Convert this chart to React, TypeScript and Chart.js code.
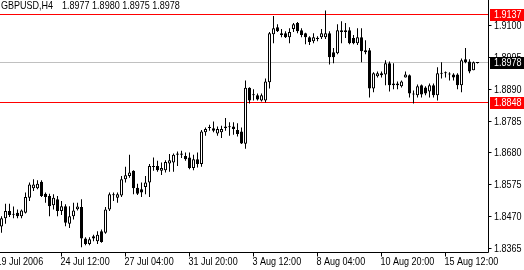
import React, { useEffect, useRef } from 'react';
import { Chart, registerables } from 'chart.js';

Chart.register(...registerables);

const symbolText = 'GBPUSD,H4';
const ohlcText = '1.8977 1.8980 1.8975 1.8978';

const opens = [
  1.8437, 1.8464, 1.8488, 1.8478, 1.8482, 1.8471, 1.8482, 1.8532, 1.8563, 1.8563,
  1.8585, 1.8545, 1.8538, 1.8507, 1.8527, 1.8488, 1.8504, 1.8446, 1.8471, 1.8494,
  1.8501, 1.8397, 1.8379, 1.8405, 1.8388, 1.8421, 1.8416, 1.8493, 1.8541, 1.8532,
  1.8539, 1.8593, 1.8604, 1.8621, 1.8565, 1.8560, 1.8567, 1.8582, 1.8635, 1.8637,
  1.8621, 1.8623, 1.8645, 1.8648, 1.8678, 1.8678, 1.8670, 1.8665, 1.8630, 1.8659,
  1.8643, 1.8748, 1.8762, 1.8761, 1.8744, 1.8748, 1.8767, 1.8765, 1.8767, 1.8756,
  1.8751, 1.8710, 1.8895, 1.8873, 1.8870, 1.8853, 1.8853, 1.8913, 1.9072, 1.9095,
  1.9075, 1.9075, 1.9062, 1.9089, 1.9109, 1.9085, 1.9075, 1.9062, 1.9049, 1.9056,
  1.9062, 1.9062, 1.9075, 1.9012, 1.9009, 1.9085, 1.9085, 1.9085, 1.9059, 1.9042,
  1.9062, 1.9019, 1.9019, 1.8893, 1.8933, 1.8943, 1.8939, 1.8976, 1.8909, 1.8909,
  1.8900, 1.8929, 1.8936, 1.8876, 1.8870, 1.8903, 1.8896, 1.8883, 1.8903, 1.8870,
  1.8943, 1.8946, 1.8939, 1.8939, 1.8939, 1.8903, 1.8989, 1.8982, 1.8953, 1.8977,
];
const highs = [
  1.8471, 1.8512, 1.8512, 1.8503, 1.8493, 1.8493, 1.8549, 1.8582, 1.8593, 1.8590,
  1.8590, 1.8549, 1.8545, 1.8543, 1.8538, 1.8521, 1.8510, 1.8504, 1.8515, 1.8515,
  1.8527, 1.8401, 1.8401, 1.8410, 1.8421, 1.8427, 1.8501, 1.8549, 1.8549, 1.8549,
  1.8604, 1.8634, 1.8674, 1.8623, 1.8578, 1.8582, 1.8604, 1.8643, 1.8665, 1.8654,
  1.8648, 1.8656, 1.8676, 1.8678, 1.8685, 1.8687, 1.8681, 1.8681, 1.8674, 1.8681,
  1.8756, 1.8764, 1.8773, 1.8784, 1.8767, 1.8770, 1.8795, 1.8781, 1.8781, 1.8778,
  1.8764, 1.8919, 1.8897, 1.8890, 1.8876, 1.8876, 1.8926, 1.9079, 1.9132, 1.9105,
  1.9089, 1.9082, 1.9092, 1.9109, 1.9112, 1.9092, 1.9077, 1.9065, 1.9075, 1.9065,
  1.9089, 1.9150, 1.9082, 1.9026, 1.9105, 1.9115, 1.9109, 1.9095, 1.9069, 1.9092,
  1.9092, 1.9052, 1.9026, 1.8946, 1.8949, 1.8949, 1.8986, 1.8982, 1.8976, 1.8916,
  1.8919, 1.8949, 1.8939, 1.8886, 1.8906, 1.8906, 1.8900, 1.8909, 1.8909, 1.8963,
  1.8979, 1.8949, 1.8946, 1.8943, 1.8943, 1.8992, 1.9026, 1.8989, 1.8982, 1.8980,
];
const lows = [
  1.8416, 1.8446, 1.8468, 1.8464, 1.8464, 1.8464, 1.8480, 1.8521, 1.8554, 1.8560,
  1.8534, 1.8515, 1.8471, 1.8493, 1.8471, 1.8475, 1.8438, 1.8432, 1.8460, 1.8490,
  1.8368, 1.8375, 1.8375, 1.8388, 1.8379, 1.8383, 1.8413, 1.8488, 1.8521, 1.8515,
  1.8534, 1.8582, 1.8598, 1.8543, 1.8541, 1.8534, 1.8543, 1.8534, 1.8621, 1.8618,
  1.8607, 1.8615, 1.8618, 1.8618, 1.8637, 1.8663, 1.8654, 1.8626, 1.8623, 1.8632,
  1.8634, 1.8737, 1.8753, 1.8748, 1.8737, 1.8729, 1.8753, 1.8737, 1.8740, 1.8734,
  1.8709, 1.8694, 1.8843, 1.8853, 1.8853, 1.8850, 1.8846, 1.8893, 1.9042, 1.9079,
  1.9062, 1.9059, 1.9042, 1.9079, 1.9075, 1.9062, 1.9039, 1.9036, 1.9042, 1.9049,
  1.9056, 1.9056, 1.8972, 1.8976, 1.9006, 1.9042, 1.9059, 1.9039, 1.9039, 1.9036,
  1.8979, 1.9006, 1.8863, 1.8880, 1.8929, 1.8929, 1.8903, 1.8883, 1.8890, 1.8890,
  1.8896, 1.8929, 1.8863, 1.8843, 1.8863, 1.8863, 1.8870, 1.8863, 1.8863, 1.8853,
  1.8926, 1.8929, 1.8919, 1.8919, 1.8890, 1.8880, 1.8976, 1.8943, 1.8953, 1.8975,
];
const closes = [
  1.8464, 1.8488, 1.8475, 1.8476, 1.8471, 1.8490, 1.8534, 1.8576, 1.8576, 1.8578,
  1.8538, 1.8534, 1.8504, 1.8532, 1.8488, 1.8504, 1.8449, 1.8471, 1.8490, 1.8503,
  1.8397, 1.8379, 1.8395, 1.8397, 1.8410, 1.8386, 1.8493, 1.8543, 1.8540, 1.8543,
  1.8593, 1.8606, 1.8615, 1.8563, 1.8545, 1.8549, 1.8582, 1.8637, 1.8633, 1.8623,
  1.8630, 1.8650, 1.8656, 1.8674, 1.8674, 1.8674, 1.8659, 1.8630, 1.8659, 1.8643,
  1.8751, 1.8759, 1.8764, 1.8753, 1.8759, 1.8759, 1.8762, 1.8765, 1.8759, 1.8742,
  1.8711, 1.8895, 1.8853, 1.8870, 1.8856, 1.8870, 1.8916, 1.9075, 1.9092, 1.9082,
  1.9069, 1.9062, 1.9079, 1.9105, 1.9082, 1.9069, 1.9062, 1.9046, 1.9062, 1.9060,
  1.9075, 1.9075, 1.8996, 1.8996, 1.9085, 1.9079, 1.9079, 1.9042, 1.9042, 1.9062,
  1.9016, 1.9012, 1.8893, 1.8943, 1.8943, 1.8936, 1.8976, 1.8903, 1.8903, 1.8903,
  1.8916, 1.8939, 1.8876, 1.8873, 1.8900, 1.8873, 1.8876, 1.8903, 1.8870, 1.8943,
  1.8941, 1.8943, 1.8941, 1.8929, 1.8903, 1.8986, 1.8979, 1.8949, 1.8979, 1.8978,
];

const priceTicks = [1.91, 1.8995, 1.889, 1.8785, 1.868, 1.8575, 1.847, 1.8365];
const timeTickBars = [-1, 15, 31, 47, 63, 79, 95, 111];
const timeTickLabels = [
  '19 Jul 2006', '24 Jul 12:00', '27 Jul 04:00', '31 Jul 20:00',
  '3 Aug 12:00', '8 Aug 04:00', '10 Aug 20:00', '15 Aug 12:00',
];
const redLevels = [1.9137, 1.8848];
const bidLevel = 1.8978;
const priceMin = 1.83527;
const priceMax = 1.91849;
const barMin = -0.375;
const barMax = 121.625;

const FONT = '11px "Liberation Sans", Arial, sans-serif';
const SQUEEZE = 0.82;

const fmt = (v: number) => v.toFixed(4);

function txt(ctx: CanvasRenderingContext2D, s: string, x: number, y: number) {
  ctx.save();
  ctx.translate(x, y);
  ctx.scale(SQUEEZE, 1);
  ctx.fillText(s, 0, 0);
  ctx.restore();
}

const overlayPlugin = {
  id: 'mt4Overlay',
  beforeDatasetsDraw(chart: any) {
    const { ctx, chartArea: a, scales } = chart;
    const y = scales.y;
    ctx.save();
    ctx.lineWidth = 1;
    const yb = Math.floor(y.getPixelForValue(bidLevel)) + 0.5;
    ctx.strokeStyle = '#c0c0c0';
    ctx.beginPath();
    ctx.moveTo(a.left, yb);
    ctx.lineTo(a.right, yb);
    ctx.stroke();
    ctx.strokeStyle = '#ff0000';
    redLevels.forEach((lv) => {
      const yy = Math.floor(y.getPixelForValue(lv)) + 0.5;
      ctx.beginPath();
      ctx.moveTo(a.left, yy);
      ctx.lineTo(a.right, yy);
      ctx.stroke();
    });
    ctx.restore();
  },
  afterDraw(chart: any) {
    const { ctx, chartArea: a, scales } = chart;
    const x = scales.x;
    const y = scales.y;
    ctx.save();
    ctx.lineWidth = 1;
    ctx.strokeStyle = '#000';
    ctx.fillStyle = '#000';
    const ax = a.right + 0.5;
    const ay = a.bottom + 0.5;
    ctx.beginPath();
    ctx.moveTo(ax, a.top);
    ctx.lineTo(ax, ay);
    ctx.moveTo(a.left, ay);
    ctx.lineTo(ax, ay);
    ctx.stroke();

    ctx.font = FONT;
    ctx.textAlign = 'left';
    ctx.textBaseline = 'middle';
    priceTicks.forEach((p) => {
      const yy = Math.floor(y.getPixelForValue(p)) + 0.5;
      ctx.beginPath();
      ctx.moveTo(ax, yy);
      ctx.lineTo(ax + 3, yy);
      ctx.stroke();
      txt(ctx, fmt(p), a.right + 6, yy);
    });
    timeTickBars.forEach((b, k) => {
      const xx = Math.floor(x.getPixelForValue(b)) + 0.5;
      ctx.beginPath();
      ctx.moveTo(xx, ay);
      ctx.lineTo(xx, ay + 4);
      ctx.stroke();
      txt(ctx, timeTickLabels[k], xx - 1, a.bottom + 9.5);
    });
    const box = (lv: number, bg: string) => {
      const yy = Math.floor(y.getPixelForValue(lv));
      ctx.fillStyle = bg;
      ctx.fillRect(a.right + 2, yy - 5, chart.width - a.right - 2, 12);
      ctx.fillStyle = '#fff';
      txt(ctx, fmt(lv), a.right + 6, yy + 1);
    };
    redLevels.forEach((lv) => box(lv, '#ff0000'));
    box(bidLevel, '#000000');
    ctx.fillStyle = '#000';
    txt(ctx, symbolText, 1, 5.5);
    txt(ctx, ohlcText, 62, 5.5);
    ctx.restore();
  },
};

export default function App() {
  const ref = useRef<HTMLCanvasElement>(null);
  useEffect(() => {
    document.body.style.margin = '0';
    document.body.style.background = '#ffffff';
    if (!ref.current) return;
    const idx = opens.map((_, i) => i);
    const chart = new Chart(ref.current, {
      type: 'bar',
      data: {
        datasets: [
          {
            label: 'body',
            data: idx.map((i) => ({ x: i, y: [opens[i], closes[i]] })) as any,
            backgroundColor: idx.map((i) => (closes[i] >= opens[i] ? '#ffffff' : '#000000')),
            borderColor: '#000000',
            borderWidth: 1,
            borderSkipped: false,
            barThickness: 3,
            minBarLength: 1,
            inflateAmount: 0,
            grouped: false,
            order: 0,
          } as any,
          {
            label: 'wick',
            data: idx.map((i) => ({ x: i, y: [lows[i], highs[i]] })) as any,
            backgroundColor: '#000000',
            borderWidth: 0,
            barThickness: 1,
            minBarLength: 1,
            inflateAmount: 0,
            grouped: false,
            order: 1,
          } as any,
        ],
      },
      options: {
        animation: false,
        responsive: false,
        devicePixelRatio: 1,
        layout: { padding: { left: 0, top: 0, right: 36, bottom: 18 } },
        plugins: { legend: { display: false }, tooltip: { enabled: false }, title: { display: false } },
        scales: {
          x: { type: 'linear', min: barMin, max: barMax, display: false, offset: false },
          y: { type: 'linear', min: priceMin, max: priceMax, display: false },
        },
      },
      plugins: [overlayPlugin],
    });
    return () => chart.destroy();
  }, []);
  return <canvas ref={ref} width={524} height={270} style={{ display: 'block' }} />;
}
